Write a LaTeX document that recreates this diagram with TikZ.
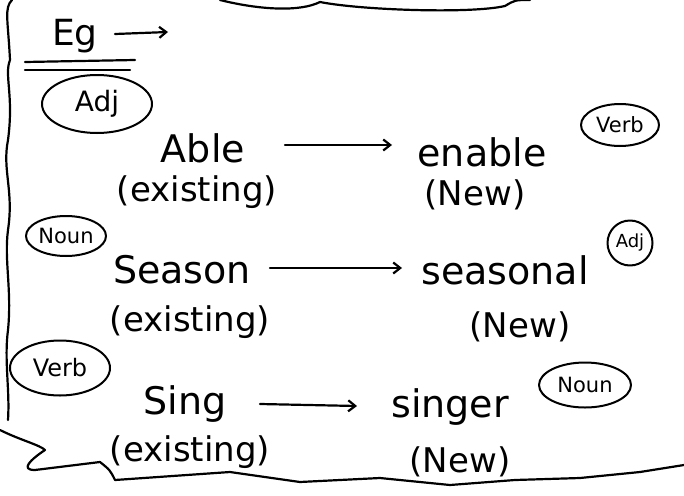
\documentclass[tikz,border=0pt]{standalone}
\usepackage{fontspec}
\setmainfont{DejaVu Sans}
\usetikzlibrary{arrows.meta,shapes.geometric}
\begin{document}
\begin{tikzpicture}[x=1pt,y=-1pt,line width=2.2pt,line cap=round,line join=round,
  word/.style={font=\fontsize{38}{40}\selectfont,inner sep=0pt},
  sub/.style={font=\fontsize{34}{36}\selectfont,inner sep=0pt},
  tag/.style={draw,ellipse,font=\fontsize{21}{23}\selectfont,inner sep=0pt,line width=2pt},
  arr/.style={-{Straight Barb[length=7pt,width=11pt]},line width=2.2pt}]
\useasboundingbox (0,0) rectangle (684,495);
% frame strokes
\draw (12,0) .. controls (4,8) and (8,20) .. (10,60) .. controls (4,75) and (14,95) .. (8,140)
  .. controls (2,170) and (14,190) .. (8,230) .. controls (4,260) and (12,290) .. (8,330)
  .. controls (4,360) and (10,390) .. (8,420);
\draw (220,0) .. controls (260,10) and (300,12) .. (320,2) .. controls (360,10) and (470,14) .. (505,6) .. controls (515,0) .. (530,0);
\draw (0,430) .. controls (20,440) and (40,445) .. (45,450) .. controls (30,460) and (20,470) .. (35,470)
  -- (100,462) .. controls (110,470) .. (115,480) -- (230,472) -- (300,482) -- (380,478) -- (450,485) -- (515,480) -- (580,478) -- (640,472) -- (684,465);
% example header
\node[word,font=\fontsize{36}{38}\selectfont] (eg) at (75,36) {Eg};
\coordinate (ega) at (115,34);
\coordinate (egb) at (168,32);
\draw[arr] (ega) -- (egb);
\draw (25,62) -- (135,60);
\draw (25,70) -- (130,70);
% row 1
\node[tag,font=\fontsize{28}{30}\selectfont,minimum width=110pt,minimum height=58pt] (t1) at (97,104) {Adj};
\node[word] (w1) at (203,148) {Able};
\node[sub] (e1) at (197,192) {(existing)};
\node[word] (n1) at (482,152) {enable};
\node[sub] (m1) at (475,195) {(New)};
\node[tag,minimum width=78pt,minimum height=42pt] (v1) at (620,125) {Verb};
\coordinate (a1) at (285,145);
\coordinate (b1) at (392,145);
\draw[arr] (a1) -- (b1);
% row 2
\node[tag,minimum width=80pt,minimum height=40pt] (t2) at (66,236) {Noun};
\node[word] (w2) at (182,270) {Season};
\node[sub] (e2) at (190,322) {(existing)};
\node[word] (n2) at (505,270) {seasonal};
\node[sub] (m2) at (520,327) {(New)};
\node[tag,font=\fontsize{18}{20}\selectfont,minimum width=45pt,minimum height=45pt] (v2) at (630,243) {Adj};
\coordinate (a2) at (270,268);
\coordinate (b2) at (402,268);
\draw[arr] (a2) -- (b2);
% row 3
\node[tag,font=\fontsize{24}{26}\selectfont,minimum width=100pt,minimum height=55pt] (t3) at (60,368) {Verb};
\node[word] (w3) at (185,404) {Sing};
\node[sub] (e3) at (190,452) {(existing)};
\node[word] (n3) at (450,407) {singer};
\node[sub] (m3) at (460,462) {(New)};
\node[tag,minimum width=92pt,minimum height=45pt] (v3) at (585,385) {Noun};
\coordinate (a3) at (260,404);
\coordinate (b3) at (357,406);
\draw[arr] (a3) -- (b3);
\end{tikzpicture}
\end{document}
